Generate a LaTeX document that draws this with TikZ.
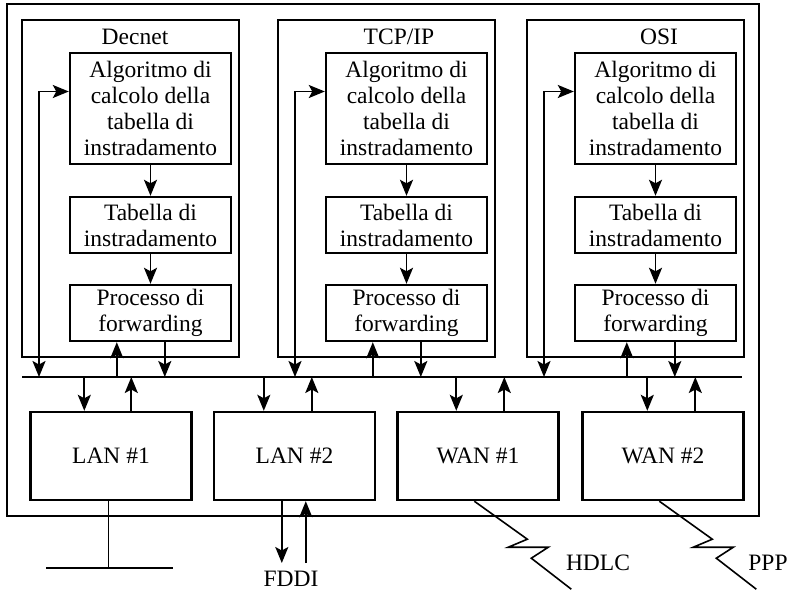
\documentclass[tikz,border=0pt]{standalone}
\usepackage{fontspec}
\setmainfont{Liberation Serif}
\usetikzlibrary{arrows.meta,calc}
\newcommand{\protostack}[6]{%
  \node[panel,minimum width=217pt,minimum height=337pt] (#1pan) at (130.5+#2,188.5) {};
  \node[txt] (#1lab) at (#4,37) {#3};
  \node[box,minimum width=161pt,minimum height=111pt] (#1alg) at (150.5+#2,108.5) {Algoritmo di\\calcolo della\\tabella di\\instradamento};
  \node[box,minimum width=161pt,minimum height=56pt] (#1tab) at (150.5+#2,225) {Tabella di\\instradamento};
  \node[box,minimum width=161pt,minimum height=56pt] (#1proc) at (150.5+#2,313) {Processo di\\forwarding};
  \draw[arr] (#1alg) -- (#1tab);
  \draw[arr] (#1tab) -- (#1proc);
  \coordinate (#1fb) at (39+#2,377);
  \draw[darr] (#1fb) |- ($(#1alg.north west)!0.35!(#1alg.south west)$);
  \draw[arr] ([xshift=#5pt]#1proc.south west |- busL) -- ([xshift=#5pt]#1proc.south west);
  \draw[arr] ([xshift=#6pt]#1proc.south west) -- ([xshift=#6pt]#1proc.south west |- busL);
}
\newcommand{\lanbox}[5]{%
  \node[box,minimum width=161pt,minimum height=88pt] (#1) at (#2,456) {#3};
  \draw[arr] ([xshift=#4pt]#1.north west |- busL) -- ([xshift=#4pt]#1.north west);
  \draw[arr] ([xshift=#5pt]#1.north west) -- ([xshift=#5pt]#1.north west |- busL);
}
\begin{document}
\begin{tikzpicture}[x=1pt,y=-1pt,
  txt/.style={font=\fontsize{23.5}{26}\selectfont},
  box/.style={draw,line width=2.4pt,inner sep=0pt,align=center,txt},
  panel/.style={draw,line width=1.6pt,inner sep=0pt},
  arr/.style={line width=1.9pt,-{Stealth[length=16pt,width=13pt,inset=3.5pt]}},
  darr/.style={line width=1.9pt,{Stealth[length=16pt,width=13pt,inset=3.5pt]}-{Stealth[length=16pt,width=13pt,inset=3.5pt]}},
  plain/.style={line width=1.6pt},
]
\useasboundingbox (0,0) rectangle (791,592);
\node[panel,minimum width=752pt,minimum height=512pt] (outer) at (383,260) {};
\coordinate (busL) at (22,377);
\coordinate (busR) at (742,377);
\draw[line width=2.8pt] (busL) -- (busR);
\protostack{d}{0}{Decnet}{135}{48}{96}
\protostack{t}{256}{TCP/IP}{399}{48}{96}
\protostack{o}{505}{OSI}{659}{53}{101}
\lanbox{lan1}{111}{LAN \#1}{55}{102}
\lanbox{lan2}{294.5}{LAN \#2}{51}{99}
\lanbox{wan1}{478}{WAN \#1}{60}{108}
\lanbox{wan2}{663}{WAN \#2}{66}{114}
% LAN #1 cable
\coordinate (eth) at (110,568);
\coordinate (ethL) at (46,568);
\coordinate (ethR) at (173,568);
\draw[plain] ([xshift=79pt]lan1.south west) -- ([xshift=79pt]lan1.south west |- eth);
\draw[line width=2.2pt] (ethL) -- (ethR);
% FDDI
\node[txt,inner sep=0pt] (fddi) at (291,579) {FDDI};
\coordinate (fd) at (283,563);
\draw[arr] ([xshift=69pt]lan2.south west) -- ([xshift=69pt]lan2.south west |- fd);
\draw[arr] ([xshift=93pt]lan2.south west |- fd) -- ([xshift=93pt]lan2.south west);
% serial lines
\draw[plain] ([xshift=78pt]wan1.south west) -- ++(53,38) -- ++(-19,8) -- ++(40,0) -- ++(-17,11) -- ++(40,31);
\node[txt] (hdlc) at (598,563) {HDLC};
\draw[plain] ([xshift=78pt]wan2.south west) -- ++(53,38) -- ++(-19,8) -- ++(40,0) -- ++(-17,11) -- ++(40,31);
\node[txt] (ppp) at (768,563) {PPP};
\end{tikzpicture}
\end{document}
